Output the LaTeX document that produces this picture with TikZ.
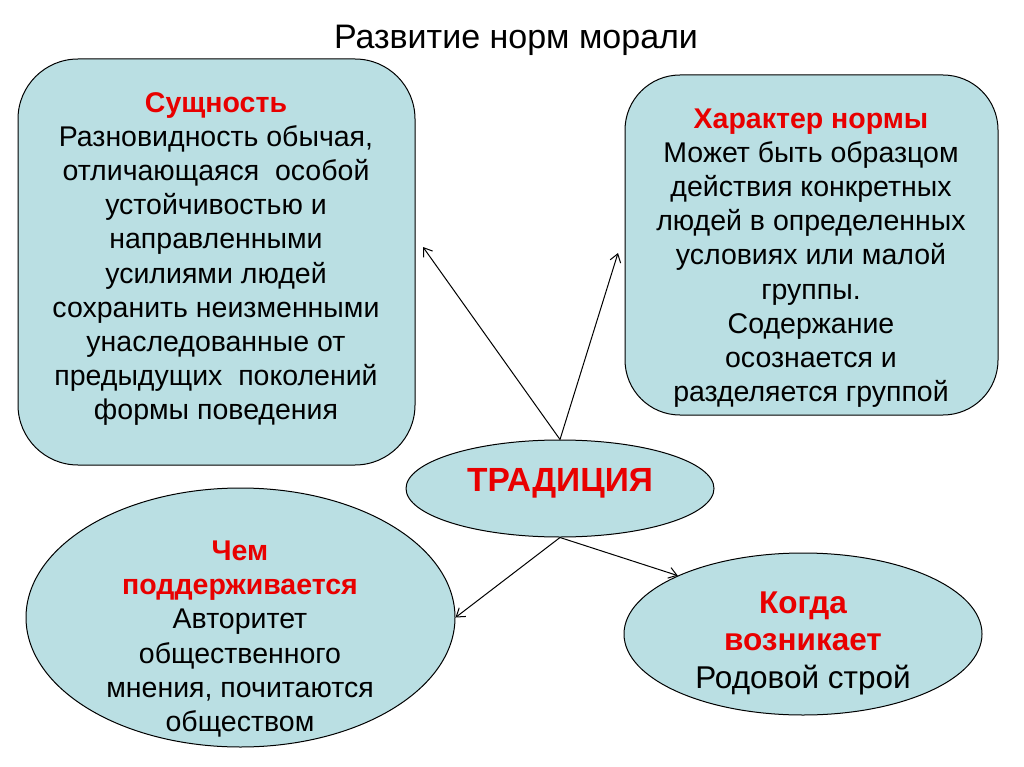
\documentclass[tikz,border=0pt]{standalone}
\usepackage{fontspec}
\setmainfont{Liberation Sans}
\usetikzlibrary{shapes.geometric,arrows.meta}
\definecolor{boxfill}{RGB}{186,223,227}
\definecolor{headred}{RGB}{232,0,0}
\tikzset{
  x=1pt, y=-1pt,
  panel/.style={draw=black, line width=1pt, fill=boxfill},
  rbox/.style={panel, rectangle, rounded corners=60pt, inner sep=0pt},
  oval/.style={panel, ellipse, inner sep=0pt},
  txt/.style={align=center, inner sep=0pt, font=\fontsize{28.5}{34.2}\selectfont},
  arr/.style={line width=1pt, -{Straight Barb[length=8pt,width=11pt,line width=1pt]}},
}
\newcommand{\hd}[1]{{\bfseries\color{headred}#1}}
\begin{document}
\begin{tikzpicture}
\useasboundingbox (0,0) rectangle (1024,767);
\fill[white] (0,0) rectangle (1024,767);
% title
\node[inner sep=0pt, font=\fontsize{34}{40}\selectfont] (title) at (516,40) {Развитие норм морали};
% boxes
\node[rbox, minimum width=397pt, minimum height=406pt] (ess) at (216.5,262) {};
\node[rbox, rounded corners=55pt, minimum width=373pt, minimum height=340pt] (har) at (811.5,245) {};
\node[oval, minimum width=308pt, minimum height=97pt] (trad) at (560,488.5) {};
\node[oval, minimum width=429pt, minimum height=259pt] (chem) at (240.5,617.5) {};
\node[oval, minimum width=358pt, minimum height=162pt] (kog) at (803,634) {};
% texts
\node[txt] (esst) at (216,259) {\hd{Сущность}\\Разновидность обычая,\\отличающаяся\ \ особой\\устойчивостью и\\направленными\\усилиями людей\\сохранить неизменными\\унаследованные от\\предыдущих\ \ поколений\\формы поведения};
\node[txt] (hart) at (811,258) {\hd{Характер нормы}\\Может быть образцом\\действия конкретных\\людей в определенных\\условиях или малой\\группы.\\Содержание\\осознается и\\разделяется группой};
\node[inner sep=0pt, font=\fontsize{33.5}{40}\bfseries\selectfont, text=headred] (tradt) at (560,483) {ТРАДИЦИЯ};
\node[txt] (chemt) at (240,639) {\hd{Чем}\\\hd{поддерживается}\\Авторитет\\общественного\\мнения, почитаются\\обществом};
\node[txt, font=\fontsize{31.5}{37.5}\selectfont] (kogt) at (803,643) {\hd{Когда}\\\hd{возникает}\\Родовой строй};
% arrow ends
\coordinate (tipL) at (423,247);
\coordinate (tipR) at (618,253);
% connectors
\draw[arr] (trad.north) -- (tipL);
\draw[arr] (trad.north) -- (tipR);
\draw[arr] (trad.south) -- (chem.east);
\draw[arr] (trad.south) -- (kog.155.7);
\end{tikzpicture}
\end{document}
